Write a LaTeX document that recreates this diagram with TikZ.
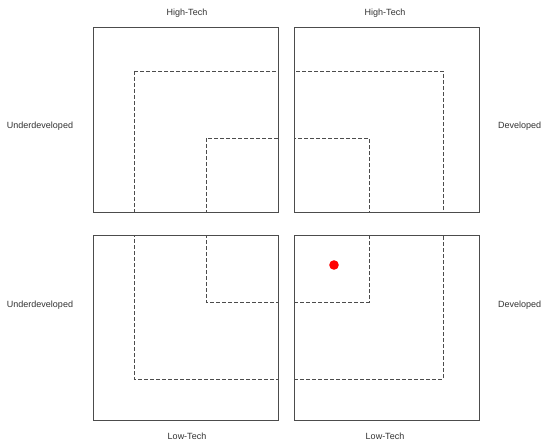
\documentclass[tikz,border=0pt]{standalone}
\usepackage{fontspec}
\setmainfont{Liberation Sans}
\begin{document}
\begin{tikzpicture}[x=1pt,y=-1pt,
  quad/.style={draw=black!70,line width=0.9pt},
  dsh/.style={draw=black!70,line width=0.9pt,dash pattern=on 4pt off 2pt},
  lbl/.style={font=\fontsize{9}{11}\selectfont,text=black!80,inner sep=0pt}]
\useasboundingbox (0,0) rectangle (541,444);
\fill[white] (0,0) rectangle (541,444);
% quadrants
\draw[quad] (93,27) rectangle (278,212) coordinate (tl);
\draw[quad] (294,27) rectangle (479,212) coordinate (tr);
\draw[quad] (93,235) rectangle (278,420) coordinate (bl);
\draw[quad] (294,235) rectangle (479,420) coordinate (br);
\begin{scope}
  \clip (93,27) rectangle (278,212) (294,27) rectangle (479,212)
        (93,235) rectangle (278,420) (294,235) rectangle (479,420);
  \draw[dsh] (134,71) rectangle (443,379);
  \draw[dsh] (206,138) rectangle (369,302);
\end{scope}
% labels
\node[lbl] (ht1) at (187,13) {High-Tech};
\node[lbl] (ht2) at (385,13) {High-Tech};
\node[lbl] (ud1) at (40,126) {Underdeveloped};
\node[lbl] (ud2) at (40,305) {Underdeveloped};
\node[lbl,anchor=west] (dv1) at (498,126) {Developed};
\node[lbl,anchor=west] (dv2) at (498,305) {Developed};
\node[lbl] (lt1) at (187,436) {Low-Tech};
\node[lbl] (lt2) at (385,436) {Low-Tech};
% red dot
\fill[red] (334,265) circle (4.8);
\end{tikzpicture}
\end{document}
